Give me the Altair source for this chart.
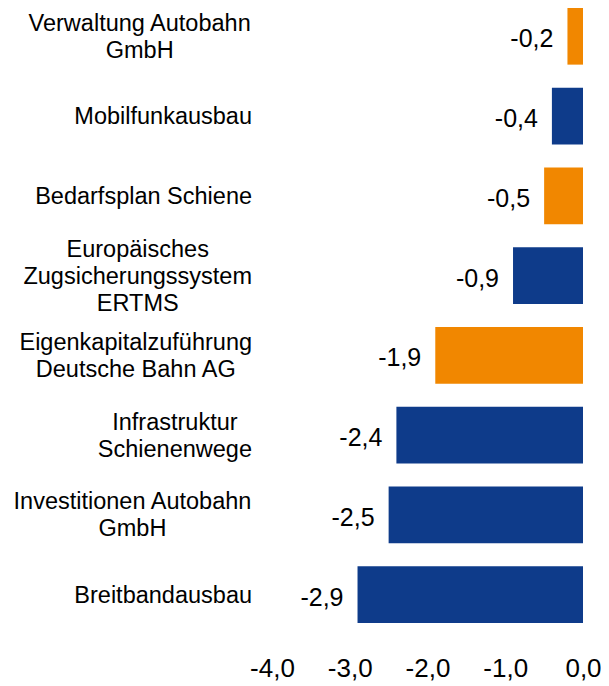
import altair as alt
import pandas as pd

categories = [
    "Verwaltung Autobahn\nGmbH",
    "Mobilfunkausbau",
    "Bedarfsplan Schiene",
    "Europäisches\nZugsicherungssystem\nERTMS",
    "Eigenkapitalzuführung\nDeutsche Bahn AG",
    "Infrastruktur\nSchienenwege",
    "Investitionen Autobahn\nGmbH",
    "Breitbandausbau",
]
values = [-0.2, -0.4, -0.5, -0.9, -1.9, -2.4, -2.5, -2.9]
groups = ["orange", "blue", "orange", "blue", "orange", "blue", "blue", "blue"]
x_ticks = [-4, -3, -2, -1, 0]

FONT = "Liberation Sans"
CAT_SIZE = 23.5
LINE_H = 27

# Arial / Liberation Sans advance widths (per 1000 em) for text measurement
AW = {
    " ": 278, "A": 667, "B": 667, "C": 722, "D": 722, "E": 667, "F": 611, "G": 778,
    "H": 722, "I": 278, "J": 500, "K": 667, "L": 556, "M": 833, "N": 722, "O": 778,
    "P": 667, "Q": 778, "R": 722, "S": 667, "T": 611, "U": 722, "V": 667, "W": 944,
    "X": 667, "Y": 667, "Z": 611, "a": 556, "b": 556, "c": 500, "d": 556, "e": 556,
    "f": 278, "g": 556, "h": 556, "i": 222, "j": 222, "k": 500, "l": 222, "m": 833,
    "n": 556, "o": 556, "p": 556, "q": 556, "r": 333, "s": 500, "t": 278, "u": 556,
    "v": 500, "w": 722, "x": 500, "y": 500, "z": 500, "ä": 556, "ü": 556, "ö": 556,
}


def text_width(s, size):
    return max(sum(AW.get(c, 556) for c in line) for line in s.split("\n")) * size / 1000.0


df = pd.DataFrame({
    "cat": categories,
    "value": values,
    "group": groups,
    "lbl": [f"{v:.1f}".replace(".", ",") for v in values],
    "w": [text_width(c, CAT_SIZE) for c in categories],
    "n": [len(c.split("\n")) for c in categories],
})

y_enc = alt.Y("cat:N", sort=categories, axis=None,
              scale=alt.Scale(paddingInner=0.29, paddingOuter=0))

bars = alt.Chart(df).mark_bar().encode(
    y=y_enc,
    x=alt.X("value:Q",
            scale=alt.Scale(domain=[-4, 0], nice=False, zero=False),
            axis=alt.Axis(values=x_ticks, title=None, grid=False, domain=False,
                          ticks=False, labelPadding=32, labelFontSize=26,
                          labelFont=FONT, labelColor="black", labelFlush=False,
                          labelExpr="replace(replace(format(datum.value, '.1f'), '.', ','), '\u2212', '-')")),
    color=alt.Color("group:N",
                    scale=alt.Scale(domain=["orange", "blue"], range=["#F18700", "#0E3B8A"]),
                    legend=None),
)

value_labels = alt.Chart(df).mark_text(
    align="right", baseline="middle", dx=-14, dy=3, fontSize=25, font=FONT, color="black"
).encode(
    y=y_enc,
    x="value:Q",
    text="lbl:N",
)

cat_labels = alt.Chart(df).mark_text(
    align="center", baseline="middle", fontSize=CAT_SIZE, lineHeight=LINE_H, font=FONT,
    color="black", lineBreak="\n",
    dx=alt.ExprRef(expr="-datum.w / 2"),
    dy=alt.ExprRef(expr=f"-(datum.n - 1) * {LINE_H} / 2 + 1"),
).encode(
    y=y_enc,
    x=alt.value(-20),
    text="cat:N",
)

chart = alt.layer(bars, value_labels, cat_labels).properties(
    width=311,
    height=615,
    autosize=alt.AutoSizeParams(type="none"),
    padding={"left": 264, "top": 0, "right": 18, "bottom": 60},
).configure_view(strokeWidth=0)

chart.save("out.html", embed_options={"renderer": "svg", "actions": False})
